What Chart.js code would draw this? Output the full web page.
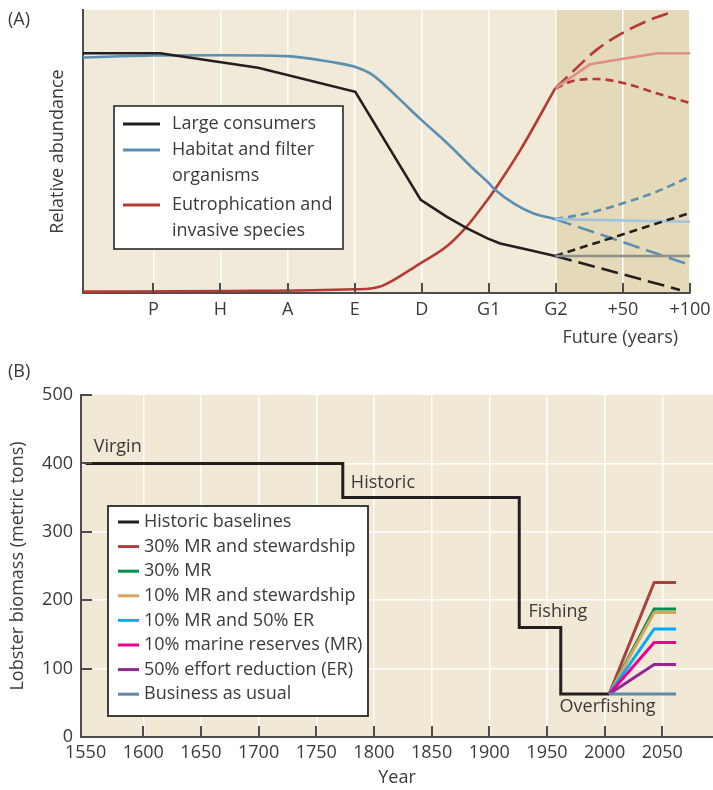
<!DOCTYPE html>
<html><head><meta charset="utf-8">
<script src="https://cdn.jsdelivr.net/npm/chart.js@4"></script>
<style>
body{margin:0;background:#fff;width:713px;height:790px;overflow:hidden;font-family:'Open Sans',sans-serif;}
.wrap{position:absolute;left:0;width:713px;}
#wa{top:0;height:350px}
#wb{top:350px;height:440px}
.lab{position:absolute;left:8px;font-size:18px;line-height:22px;color:#3a3a3a;}
</style></head><body>
<div class="wrap" id="wa"><canvas id="ca" width="713" height="350"></canvas></div>
<div class="wrap" id="wb"><canvas id="cb" width="713" height="440"></canvas></div>
<div class="lab" style="top:7px">(A)</div>
<div class="lab" style="top:359px">(B)</div>
<script>
// ---------- Panel A data ----------
const stageTicks = [1,2,3,4,5,6,7,8,9];
const stageLabels = ['P','H','A','E','D','G1','G2','+50','+100'];
const groupNames = ['Large consumers', ['Habitat and filter','organisms'], ['Eutrophication and','invasive species']];

const consumersX = [-0.05,1.10,2.56,4.01,4.985,5.37,5.67,5.98,6.17,6.57,6.99];
const consumersY = [84.7,84.7,79.6,71.1,32.9,27.0,22.9,19.3,17.5,15.4,13.1];
const habitatX = [-0.05,0.99,2.0,2.99,3.63,3.99,4.27,4.63,4.97,5.38,5.76,5.98,6.09,6.37,6.66,6.99];
const habitatY = [83.2,83.9,84.0,83.7,81.7,80.0,77.0,69.4,61.7,52.9,44.1,39.3,36.6,31.7,28.2,26.1];
const eutroX = [-0.05,2.0,3.98,4.27,4.42,4.98,5.37,5.65,5.98,6.09,6.47,6.99];
const eutroY = [0.5,0.7,1.3,1.7,2.6,10.5,16.4,22.9,32.9,36.6,50.5,72.3];

// future scenarios (G2 -> +100)
const consFlatX = [6.99,9],   consFlatY = [13.1,13.1];
const consDownX = [6.99,8.85], consDownY = [13.1,1.1];
const consUpX   = [6.99,9],   consUpY   = [13.1,28.3];
const habFlatX  = [6.99,9],   habFlatY  = [26.1,25.2];
const habDownX  = [6.99,9],   habDownY  = [26.1,9.9];
const habUpX    = [6.99,7.5,8,8.5,9], habUpY = [26.1,28.3,31.7,35.8,41.1];
const eutFlatX  = [6.99,7.51,8.51,9], eutFlatY = [72.3,80.8,84.7,84.7];
const eutHighX  = [6.99,7.33,7.61,7.99,8.4,8.75], eutHighY = [72.3,80,86,91.8,96.5,99.4];
const eutMidX   = [6.99,7.3,7.61,7.99,8.5,9], eutMidY = [72.3,75.2,75.6,74.3,70.6,67.1];

// ---------- Panel B data ----------
const yearTicks = [1550,1600,1650,1700,1750,1800,1850,1900,1950,2000,2050];
const baselineYears = [1550,1773,1926,1962,2004];
const baselineBiomass = [400,350,160,63,63];
const scenarioYears = [2004,2043,2062];
const scenarioNames = ['30% MR and stewardship','30% MR','10% MR and stewardship','10% MR and 50% ER','10% marine reserves (MR)','50% effort reduction (ER)','Business as usual'];
const mr30Stew = [63,226,226];
const mr30     = [63,187,187];
const mr10Stew = [63,182,182];
const mr10Er50 = [63,158,158];
const mr10     = [63,138,138];
const er50     = [63,106,106];
const bau      = [63,63,63];
const scenarioValues = [mr30Stew, mr30, mr10Stew, mr10Er50, mr10, er50, bau];
const phaseLabels = ['Virgin','Historic','Fishing','Overfishing'];

// ---------- helpers & plugins ----------
const FONT = "'Open Sans', sans-serif";
const TXT = '#3a3a3a';
const AXIS = '#4d4d4d';
function pts(xs, ys){ return xs.map((x,i)=>({x:x, y:ys[i]})); }

const bgPlugin = {
  id:'bg',
  beforeDraw(chart, args, o){
    const {ctx, chartArea:a} = chart; const x = chart.scales.x;
    ctx.save();
    ctx.fillStyle = o.color; ctx.fillRect(a.left, a.top, a.right-a.left, a.bottom-a.top);
    if (o.shadeFrom != null){
      const x1 = x.getPixelForValue(o.shadeFrom);
      ctx.fillStyle = o.shade; ctx.fillRect(x1, a.top, a.right-x1, a.bottom-a.top);
    }
    ctx.restore();
  }
};
const innerTicks = {
  id:'innerTicks',
  afterDatasetsDraw(chart, args, o){
    const ctx = chart.ctx; ctx.save();
    ctx.strokeStyle = o.color; ctx.lineWidth = o.width;
    (o.axes||[]).forEach(id=>{
      const s = chart.scales[id];
      s.ticks.forEach(t=>{
        if (o.skip && o.skip.includes(t.value)) return;
        const p = Math.round(s.getPixelForValue(t.value));
        ctx.beginPath();
        if (s.isHorizontal()){ ctx.moveTo(p, s.top); ctx.lineTo(p, s.top - o.len); }
        else { ctx.moveTo(s.right, p); ctx.lineTo(s.right + o.len, p); }
        ctx.stroke();
      });
    });
    ctx.restore();
  }
};
const boxLegend = {
  id:'boxLegend',
  afterDraw(chart, args, o){
    if (!o.rows) return;
    const ctx = chart.ctx; ctx.save();
    const [x1,y1,x2,y2] = o.box;
    ctx.fillStyle = '#fff'; ctx.fillRect(x1,y1,x2-x1,y2-y1);
    ctx.strokeStyle = o.borderColor; ctx.lineWidth = o.borderWidth; ctx.strokeRect(x1,y1,x2-x1,y2-y1);
    ctx.font = o.fontSize + 'px ' + FONT; ctx.textBaseline = 'middle'; ctx.textAlign = 'left';
    o.rows.forEach(r=>{
      ctx.strokeStyle = r.color; ctx.lineWidth = o.lineWidth;
      ctx.beginPath(); ctx.moveTo(o.lineX[0], r.y); ctx.lineTo(o.lineX[1], r.y); ctx.stroke();
      ctx.fillStyle = TXT;
      const lines = Array.isArray(r.text) ? r.text : [r.text];
      lines.forEach((t,i)=>ctx.fillText(t, o.textX, r.y + i*o.lineGap));
    });
    ctx.restore();
  }
};
// free text placed at data x / data y (or pixel y when py given)
const freeText = {
  id:'freeText',
  afterDatasetsDraw(chart, args, o){
    if (!o.items) return;
    const ctx = chart.ctx; ctx.save();
    ctx.font = o.fontSize + 'px ' + FONT; ctx.fillStyle = TXT; ctx.textBaseline = 'middle';
    o.items.forEach(it=>{
      ctx.textAlign = it.align || 'left';
      const px = chart.scales.x.getPixelForValue(it.x);
      const py = it.py != null ? it.py : chart.scales.y.getPixelForValue(it.y);
      ctx.fillText(it.text, px, py);
    });
    ctx.restore();
  }
};

const BLACK = '#231f20', BLUE = '#5b8fb1', RED = '#b33a35';
const LONG = [17,7], SHORT = [8,5];

// ---------- Chart A ----------
const dsA = [
  {data:pts(consFlatX,consFlatY), borderColor:'#8f8f8f'},
  {data:pts(consDownX,consDownY), borderColor:BLACK, borderDash:LONG},
  {data:pts(consUpX,consUpY), borderColor:BLACK, borderDash:SHORT},
  {data:pts(habFlatX,habFlatY), borderColor:'#a2c4dc'},
  {data:pts(habDownX,habDownY), borderColor:BLUE, borderDash:LONG},
  {data:pts(habUpX,habUpY), borderColor:BLUE, borderDash:SHORT, cubicInterpolationMode:'monotone'},
  {data:pts(eutFlatX,eutFlatY), borderColor:'#de8f87'},
  {data:pts(eutHighX,eutHighY), borderColor:RED, borderDash:LONG, cubicInterpolationMode:'monotone'},
  {data:pts(eutMidX,eutMidY), borderColor:RED, borderDash:SHORT, cubicInterpolationMode:'monotone'},
  {label:'Large consumers', data:pts(consumersX,consumersY), borderColor:BLACK},
  {label:'Habitat and filter organisms', data:pts(habitatX,habitatY), borderColor:BLUE, cubicInterpolationMode:'monotone'},
  {label:'Eutrophication and invasive species', data:pts(eutroX,eutroY), borderColor:RED, cubicInterpolationMode:'monotone'}
].map(d=>Object.assign({borderWidth:2.6, pointRadius:0, fill:false, tension:0, borderCapStyle:'butt'}, d));

new Chart(document.getElementById('ca'), {
  type:'line',
  data:{datasets:dsA},
  plugins:[bgPlugin, innerTicks, boxLegend, freeText],
  options:{
    responsive:false, animation:false,
    layout:{padding:{top:10, right:23, left:0, bottom:0}},
    plugins:{
      legend:{display:false}, tooltip:{enabled:false},
      bg:{color:'#f2ead8', shadeFrom:7, shade:'#e4dab9'},
      innerTicks:{axes:['x'], color:AXIS, width:2, len:10},
      boxLegend:{
        box:[114,106,343,249], borderColor:'#2a2a2a', borderWidth:1.6, fontSize:18,
        lineX:[123,160], textX:172, lineGap:25.5, lineWidth:3,
        rows:[
          {y:124, color:BLACK, text:groupNames[0]},
          {y:150, color:BLUE, text:groupNames[1]},
          {y:205, color:RED, text:groupNames[2]}
        ]
      },
      freeText:{fontSize:18, items:[{text:'Future (years)', x:7.96, py:338, align:'center'}]}
    },
    scales:{
      x:{type:'linear', min:-0.05, max:9,
        afterBuildTicks:s=>{ s.ticks = stageTicks.map(v=>({value:v})); },
        ticks:{callback:v=>stageLabels[stageTicks.indexOf(v)], font:{family:FONT,size:18}, color:TXT, padding:6, maxRotation:0, autoSkip:false},
        grid:{color:'#ffffff', lineWidth:1.5, drawTicks:false},
        border:{display:true, color:AXIS, width:2},
        afterFit:s=>{ s.height = 57; s.paddingRight = 0; s.paddingLeft = 0; }
      },
      y:{min:0, max:100,
        ticks:{display:false}, grid:{display:false},
        border:{display:true, color:AXIS, width:2},
        title:{display:true, text:'Relative abundance', font:{family:FONT,size:18}, color:TXT, padding:{top:47,bottom:0}},
        afterFit:s=>{ s.width = 83; }
      }
    }
  }
});

// ---------- Chart B ----------
const scenarioColors = ['#a8423f','#00924a','#d5a55d','#00aeef','#ec008c','#92278f','#6189a8'];
const dsB = [];
for (let i = scenarioNames.length-1; i >= 0; i--){
  dsB.push({label:scenarioNames[i], data:pts(scenarioYears, scenarioValues[i]), borderColor:scenarioColors[i]});
}
dsB.push({label:'Historic baselines', data:pts(baselineYears, baselineBiomass), borderColor:BLACK, stepped:true});
dsB.forEach(d=>Object.assign(d, {borderWidth:3, pointRadius:0, fill:false, tension:0, borderCapStyle:'butt'}));

const legendRowsB = [{color:BLACK, text:'Historic baselines'}].concat(scenarioNames.map((n,i)=>({color:scenarioColors[i], text:n})));
legendRowsB.forEach((r,i)=>{ r.y = 172 + i*24.6; });

new Chart(document.getElementById('cb'), {
  type:'line',
  data:{datasets:dsB},
  plugins:[bgPlugin, innerTicks, boxLegend, freeText],
  options:{
    responsive:false, animation:false,
    layout:{padding:{top:45, right:0, left:0, bottom:0}},
    plugins:{
      legend:{display:false}, tooltip:{enabled:false},
      bg:{color:'#f1e9d6'},
      innerTicks:{axes:['x','y'], color:AXIS, width:2, len:11, skip:[1550,0]},
      boxLegend:{
        box:[108,156,368,366], borderColor:'#2a2a2a', borderWidth:1.8, fontSize:18,
        lineX:[118,139], textX:144, lineGap:0, lineWidth:3, rows:legendRowsB
      },
      freeText:{fontSize:18, items:[
        {text:phaseLabels[0], x:1557, y:424},
        {text:phaseLabels[1], x:1780, y:372},
        {text:phaseLabels[2], x:1934, y:183},
        {text:phaseLabels[3], x:1961, y:44}
      ]}
    },
    scales:{
      x:{type:'linear', min:1546, max:2094,
        afterBuildTicks:s=>{ s.ticks = yearTicks.map(v=>({value:v})); },
        ticks:{callback:v=>String(v), font:{family:FONT,size:18}, color:TXT, padding:5, maxRotation:0, autoSkip:false},
        grid:{color:c=>(c.tick && c.tick.value===1550) ? 'rgba(0,0,0,0)' : '#ffffff', lineWidth:1.5, drawTicks:false},
        border:{display:true, color:AXIS, width:2},
        title:{display:true, text:'Year', font:{family:FONT,size:18}, color:TXT, padding:{top:0,bottom:1}},
        afterFit:s=>{ s.height = 53; }
      },
      y:{min:0, max:500,
        ticks:{stepSize:100, font:{family:FONT,size:18}, color:TXT, padding:8},
        grid:{color:c=>(c.tick && (c.tick.value===0 || c.tick.value===500)) ? 'rgba(0,0,0,0)' : '#ffffff', lineWidth:1.5, drawTicks:false},
        border:{display:true, color:AXIS, width:2},
        title:{display:true, text:'Lobster biomass (metric tons)', font:{family:FONT,size:18}, color:TXT, padding:{top:7,bottom:0}},
        afterFit:s=>{ s.width = 81; }
      }
    }
  }
});
</script>
</body></html>
